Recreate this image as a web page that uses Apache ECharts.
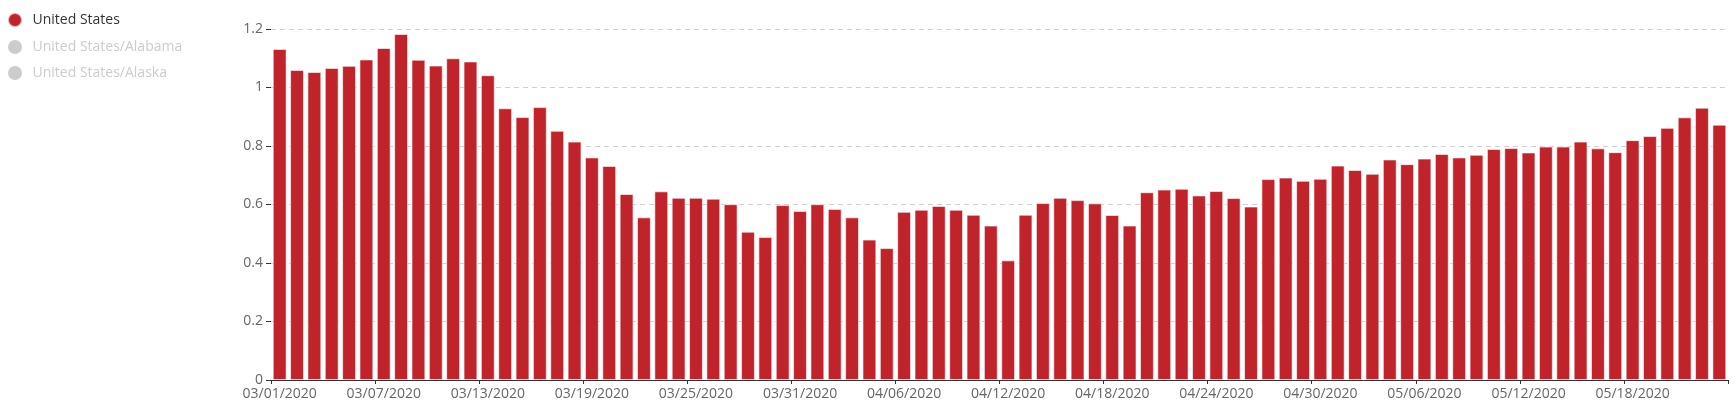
<!DOCTYPE html>
<html>
<head>
<meta charset="utf-8">
<style>
  html, body { margin: 0; padding: 0; background: #fff; }
  #chart { width: 1735px; height: 409px; }
</style>
<script src="https://cdn.jsdelivr.net/npm/echarts@6/dist/echarts.min.js"></script>
</head>
<body>
<div id="chart"></div>
<script>
const seriesNames = ["United States", "United States/Alabama", "United States/Alaska"];

const categories = [
  "03/01/2020","03/02/2020","03/03/2020","03/04/2020","03/05/2020","03/06/2020","03/07/2020","03/08/2020","03/09/2020","03/10/2020",
  "03/11/2020","03/12/2020","03/13/2020","03/14/2020","03/15/2020","03/16/2020","03/17/2020","03/18/2020","03/19/2020","03/20/2020",
  "03/21/2020","03/22/2020","03/23/2020","03/24/2020","03/25/2020","03/26/2020","03/27/2020","03/28/2020","03/29/2020","03/30/2020",
  "03/31/2020","04/01/2020","04/02/2020","04/03/2020","04/04/2020","04/05/2020","04/06/2020","04/07/2020","04/08/2020","04/09/2020",
  "04/10/2020","04/11/2020","04/12/2020","04/13/2020","04/14/2020","04/15/2020","04/16/2020","04/17/2020","04/18/2020","04/19/2020",
  "04/20/2020","04/21/2020","04/22/2020","04/23/2020","04/24/2020","04/25/2020","04/26/2020","04/27/2020","04/28/2020","04/29/2020",
  "04/30/2020","05/01/2020","05/02/2020","05/03/2020","05/04/2020","05/05/2020","05/06/2020","05/07/2020","05/08/2020","05/09/2020",
  "05/10/2020","05/11/2020","05/12/2020","05/13/2020","05/14/2020","05/15/2020","05/16/2020","05/17/2020","05/18/2020","05/19/2020",
  "05/20/2020","05/21/2020","05/22/2020","05/23/2020"
];

const unitedStates = [
  1.132, 1.060, 1.053, 1.067, 1.074, 1.096, 1.135, 1.183, 1.095, 1.075,
  1.100, 1.089, 1.042, 0.929, 0.899, 0.933, 0.852, 0.815, 0.761, 0.732,
  0.636, 0.556, 0.645, 0.623, 0.623, 0.620, 0.601, 0.507, 0.489, 0.598,
  0.578, 0.601, 0.585, 0.556, 0.480, 0.451, 0.575, 0.582, 0.595, 0.582,
  0.565, 0.528, 0.409, 0.565, 0.605, 0.623, 0.615, 0.604, 0.564, 0.528,
  0.642, 0.651, 0.654, 0.631, 0.646, 0.622, 0.593, 0.687, 0.692, 0.681,
  0.688, 0.733, 0.718, 0.705, 0.754, 0.738, 0.757, 0.773, 0.761, 0.770,
  0.790, 0.793, 0.778, 0.798, 0.798, 0.815, 0.792, 0.779, 0.820, 0.834,
  0.862, 0.898, 0.931, 0.873
];
const alabama = [];
const alaska = [];

const yTicks = { min: 0, max: 1.2, interval: 0.2 };

const chart = echarts.init(document.getElementById('chart'));
const font = "'Open Sans', 'Noto Sans', sans-serif";

chart.setOption({
  animation: false,
  textStyle: { fontFamily: font },
  legend: {
    orient: 'vertical',
    left: 7,
    top: 12,
    padding: 0,
    itemWidth: 25,
    itemHeight: 14,
    itemGap: 12,
    icon: 'circle',
    inactiveColor: '#ccc',
    textStyle: { fontSize: 14, color: '#333', fontFamily: font },
    data: seriesNames,
    selected: {
      "United States": true,
      "United States/Alabama": false,
      "United States/Alaska": false
    }
  },
  grid: { left: 271, right: 7, top: 29, bottom: 29, containLabel: false },
  xAxis: {
    type: 'category',
    data: categories,
    boundaryGap: true,
    axisLine: { show: true, lineStyle: { color: '#333', width: 1 } },
    axisTick: { show: true, interval: 5, length: 4, lineStyle: { color: '#333' } },
    axisLabel: { interval: 5, color: '#666', fontSize: 14, margin: 7, fontFamily: font },
    splitLine: { show: false }
  },
  yAxis: {
    type: 'value',
    min: yTicks.min,
    max: yTicks.max,
    interval: yTicks.interval,
    axisLine: { show: false },
    axisTick: { show: true, length: 5, lineStyle: { color: '#333' } },
    axisLabel: { color: '#666', fontSize: 14, margin: 8, fontFamily: font },
    splitLine: { show: true, lineStyle: { type: [5, 4], color: '#d0d0d0', width: 1 } }
  },
  series: [
    {
      name: seriesNames[0],
      type: 'bar',
      data: unitedStates,
      barCategoryGap: '20%',
      itemStyle: { color: '#C1232B', borderColor: 'rgba(255,255,255,0.6)', borderWidth: 1 }
    },
    { name: seriesNames[1], type: 'bar', data: alabama, itemStyle: { color: '#B5C334' } },
    { name: seriesNames[2], type: 'bar', data: alaska, itemStyle: { color: '#FCCE10' } }
  ]
});
</script>
</body>
</html>
